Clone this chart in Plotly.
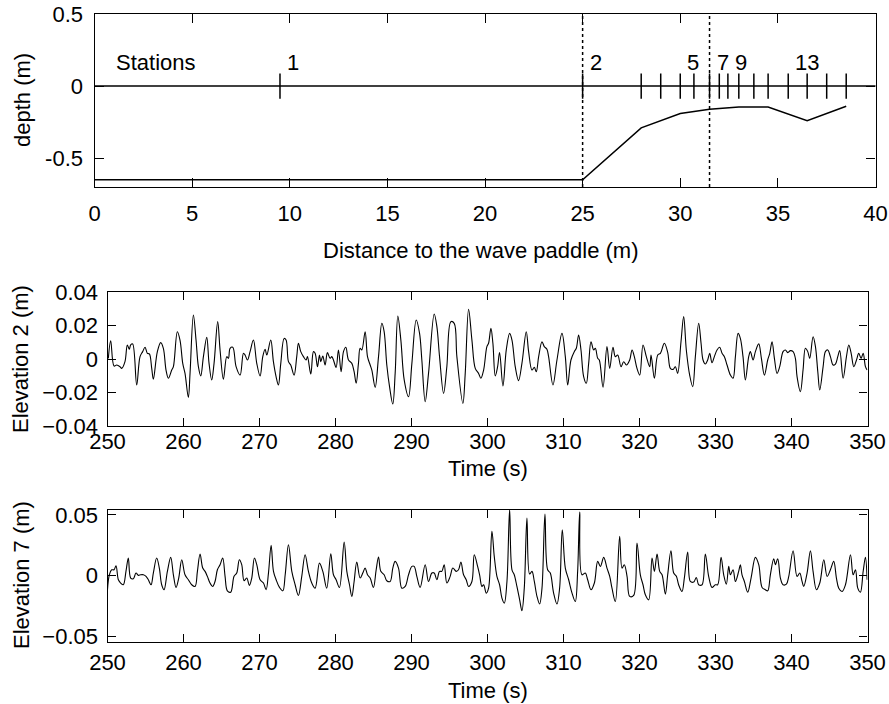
import plotly.graph_objects as go

# ---------------- data ----------------
# Top panel: bathymetry profile and gauge stations
bathy_x = [0.0, 25.0, 28.0, 30.0, 31.5, 33.0, 34.5, 36.5, 38.5]
bathy_z = [-0.65, -0.65, -0.29, -0.19, -0.16, -0.145, -0.145, -0.24, -0.14]
still_water_level = 0.0
station_x = [9.5, 25.0, 28.0, 29.0, 30.0, 30.7, 31.5, 32.0, 32.44, 33.0,
             33.77, 34.5, 35.53, 36.5, 37.5, 38.5]
labelled_stations = [1, 2, 5, 7, 9, 13]
plotted_stations = [2, 7]

depth_ticks = [-0.5, 0, 0.5]
depth_ticktext = ["-0.5", "0", "0.5"]
dist_ticks = [0, 5, 10, 15, 20, 25, 30, 35, 40]
time_ticks = [250, 260, 270, 280, 290, 300, 310, 320, 330, 340, 350]
elev2_ticks = [-0.04, -0.02, 0, 0.02, 0.04]
elev2_ticktext = ["\u22120.04", "\u22120.02", "0", "0.02", "0.04"]
elev7_ticks = [-0.05, 0, 0.05]
elev7_ticktext = ["\u22120.05", "0", "0.05"]

# Elevation at station 2 (m)
elev2_time = [
    250.11, 250.42, 250.86, 251.21, 251.65, 251.87, 252.30, 252.61, 252.87, 253.05,
    253.31, 253.84, 254.28, 254.63, 254.94, 255.24, 255.51, 255.82, 256.03, 256.56,
    257.00, 257.35, 257.70, 258.01, 258.45, 258.67, 259.19, 259.54, 259.90, 260.20,
    260.64, 260.86, 261.30, 261.65, 261.96, 262.27, 262.62, 263.06, 263.36, 263.71,
    264.02, 264.50, 264.81, 265.25, 265.69, 265.91, 266.13, 266.48, 266.92, 267.45,
    267.89, 268.10, 268.41, 268.76, 269.20, 269.64, 270.08, 270.43, 270.74, 270.96,
    271.48, 271.83, 272.18, 272.49, 272.80, 273.24,
    273.50, 273.81, 274.11, 274.55, 274.90, 275.12, 275.43, 275.78, 276.13, 276.31,
    276.75, 277.10, 277.32, 277.63, 277.89, 278.07, 278.33, 278.63, 278.94, 279.29,
    279.51, 279.73, 280.08, 280.39, 280.74, 281.05, 281.36, 281.71, 282.15, 282.45,
    282.72, 283.02, 283.24, 283.46, 283.90, 284.21, 284.56, 284.78, 285.22, 285.66,
    286.10, 286.40, 286.75, 287.11, 287.54, 287.85, 288.20, 288.60, 289.04, 289.61,
    290.05, 290.62, 291.06, 291.36, 291.80, 292.24, 292.99, 293.34, 293.69, 294.22,
    294.65, 295.18, 295.62, 295.97, 296.76, 297.07, 297.51, 297.95,
    298.39, 298.83, 299.13, 299.49, 299.92, 300.14, 300.45, 300.71, 301.02, 301.33,
    301.59, 302.03, 302.47, 302.91, 303.22, 303.65, 304.09, 304.53, 305.10, 305.41,
    305.85, 306.16, 306.42, 306.73, 307.17, 307.47, 307.82, 308.04, 308.61, 309.14,
    309.80, 310.24, 310.55, 310.98, 311.42, 311.69, 311.99, 312.30, 312.65, 313.00,
    313.31, 313.62, 313.97, 314.19, 314.50, 314.71, 315.20, 315.72, 316.08, 316.51,
    316.82, 317.13, 317.57, 317.92, 318.27, 318.71, 319.02, 319.32, 319.67, 320.03,
    320.46, 320.90, 321.34, 321.52, 321.96, 322.40, 322.75, 323.27, 323.71,
    324.06, 324.41, 324.72, 325.02, 325.46, 325.81, 326.16, 326.60, 327.00, 327.35,
    327.79, 328.10, 328.36, 328.66, 328.97, 329.24, 329.54, 329.85, 330.20, 330.55,
    330.86, 331.17, 331.52, 331.96, 332.31, 332.62, 332.97, 333.27, 333.62, 333.93,
    334.37, 334.59, 334.94, 335.25, 335.69, 336.04, 336.43, 336.87, 337.14, 337.44,
    337.75, 338.10, 338.45, 338.89, 339.20, 339.51, 339.86, 340.21, 340.51, 340.73,
    341.17, 341.52, 341.83, 342.14, 342.40, 342.84, 343.15, 343.46, 343.72, 344.16,
    344.46, 344.77, 345.12, 345.47, 345.78, 346.09, 346.35, 346.79, 347.23, 347.54,
    347.85, 348.20, 348.55, 348.85, 349.16, 349.43, 349.73, 349.95,
]
elev2_value = [
    0.0004, 0.0109, -0.0042, -0.0036, -0.0046, -0.0056, -0.0016, 0.0084, 0.0058, 0.0084,
    0.0090, -0.0155, 0.0014, 0.0044, 0.0070, 0.0034, 0.0030, -0.0056, -0.0121, 0.0044,
    0.0098, 0.0064, -0.0066, -0.0115, -0.0066, -0.0046, 0.0163, 0.0113, -0.0026, -0.0086,
    -0.0229, -0.0086, 0.0263, 0.0113, -0.0046, -0.0101, 0.0014, 0.0129, -0.0026, -0.0125,
    -0.0026, 0.0223, 0.0054, -0.0121, 0.0014, 0.0004, 0.0064, 0.0070, -0.0046, -0.0096,
    0.0034, 0.0024, -0.0006, 0.0044, 0.0113, -0.0026, -0.0101, 0.0014, 0.0058, 0.0024,
    0.0113, -0.0016, -0.0105, -0.0155, -0.0026, 0.0123,
    0.0113, -0.0016, -0.0036, -0.0096, 0.0014, 0.0094, 0.0044, 0.0014, -0.0006, 0.0014,
    -0.0090, 0.0044, 0.0034, -0.0046, 0.0024, -0.0016, 0.0018, -0.0036, 0.0038, 0.0004,
    0.0014, -0.0006, -0.0050, 0.0054, -0.0076, 0.0044, 0.0070, -0.0006, -0.0026, -0.0076,
    -0.0145, -0.0026, 0.0064, 0.0054, 0.0163, 0.0014, -0.0036, -0.0066, -0.0169, 0.0014,
    0.0213, 0.0163, -0.0036, -0.0165, -0.0269, -0.0086, 0.0257, 0.0113, -0.0125, -0.0225,
    -0.0026, 0.0233, 0.0153, -0.0006, -0.0255, -0.0086, 0.0269, 0.0193, 0.0014, -0.0205,
    -0.0046, 0.0223, 0.0213, 0.0014, -0.0265, -0.0086, 0.0297, 0.0113,
    -0.0056, -0.0086, -0.0115, -0.0066, 0.0074, 0.0094, 0.0183, 0.0094, -0.0101, -0.0046,
    0.0038, -0.0161, 0.0054, 0.0153, 0.0113, -0.0046, -0.0129, -0.0026, 0.0163, 0.0044,
    -0.0066, -0.0050, -0.0076, 0.0014, 0.0103, 0.0074, 0.0058, 0.0014, -0.0155, -0.0006,
    0.0153, 0.0014, -0.0155, -0.0006, 0.0044, 0.0064, 0.0143, 0.0054, -0.0105, -0.0145,
    -0.0026, 0.0103, 0.0054, 0.0064, 0.0004, -0.0006, -0.0169, 0.0074, -0.0056, 0.0070,
    0.0014, 0.0024, -0.0046, -0.0016, -0.0036, -0.0006, 0.0054, 0.0014, -0.0056, -0.0096,
    0.0084, 0.0014, -0.0046, 0.0024, -0.0115, 0.0024, 0.0034, 0.0094, 0.0040,
    -0.0056, -0.0062, -0.0046, -0.0086, 0.0103, 0.0253, 0.0054, -0.0096, -0.0165, 0.0014,
    0.0213, 0.0094, -0.0006, -0.0030, -0.0006, 0.0034, -0.0022, 0.0014, 0.0054, 0.0070,
    0.0034, 0.0014, -0.0036, -0.0096, -0.0115, 0.0014, 0.0153, 0.0123, 0.0014, -0.0125,
    0.0014, 0.0044, -0.0006, 0.0044, 0.0090, 0.0004, -0.0096, -0.0006, 0.0034, 0.0103,
    0.0004, -0.0086, -0.0046, 0.0044, 0.0054, 0.0038, 0.0050, 0.0044, 0.0004, -0.0105,
    -0.0195, -0.0066, 0.0064, 0.0044, 0.0004, 0.0133, 0.0074, -0.0076, -0.0185, -0.0046,
    0.0044, 0.0054, 0.0014, -0.0036, -0.0030, 0.0014, 0.0050, -0.0115, 0.0014, 0.0084,
    0.0034, -0.0046, -0.0006, 0.0034, 0.0004, 0.0034, -0.0046, -0.0066,
]

# Elevation at station 7 (m)
elev7_time = [
    250.00, 250.24, 250.55, 250.86, 251.12, 251.43, 251.73, 252.08, 252.43, 252.74,
    253.05, 253.40, 253.75, 254.06, 254.37, 254.72, 255.07, 255.37, 255.73, 256.03,
    256.47, 256.82, 257.13, 257.44, 257.88, 258.32, 258.67, 259.02, 259.37, 259.77,
    260.20, 260.64, 261.08, 261.52, 261.83, 262.18, 262.53, 262.84, 263.14, 263.49,
    263.84, 264.15, 264.46, 264.81, 265.16, 265.47, 265.77, 266.21, 266.65, 267.00,
    267.35, 267.66, 267.97, 268.32, 268.67, 268.98, 269.33, 269.64, 270.08, 270.52,
    270.87, 271.18, 271.53, 271.84, 272.19, 272.63, 273.07, 273.38,
    273.81, 274.25, 274.69, 275.12, 275.56, 276.00, 276.44, 276.88, 277.32, 277.89,
    278.33, 278.85, 279.38, 279.73, 280.08, 280.52, 281.14, 281.49, 281.84, 282.15,
    282.45, 282.80, 283.24, 283.59, 283.90, 284.21, 284.56, 284.99, 285.35, 285.66,
    285.96, 286.40, 286.75, 287.19, 287.54, 287.85, 288.29, 288.73, 289.17, 289.61,
    290.05, 290.35, 290.70, 291.14, 291.80, 292.24, 292.68, 292.99, 293.34, 293.69,
    293.99, 294.30, 294.65, 295.09, 295.44, 295.88, 296.19, 296.50, 296.85, 297.20,
    297.51, 297.95,
    298.26, 298.70, 298.96, 299.27, 299.49, 299.84, 300.14, 300.58, 300.89, 301.24,
    301.59, 301.90, 302.21, 302.56, 302.91, 303.22, 303.52, 303.87, 304.23, 304.53,
    304.84, 305.19, 305.54, 305.85, 306.16, 306.51, 306.86, 307.17, 307.56, 307.91,
    308.26, 308.70, 309.14, 309.49, 309.84, 310.24, 310.68, 311.12, 311.55, 311.86,
    312.13, 312.43, 312.87, 313.18, 313.62, 314.06, 314.50, 314.85, 315.29, 315.72,
    316.08, 316.38, 316.82, 317.39, 317.70, 318.00, 318.36, 318.71, 319.23, 319.67,
    320.11, 320.46, 320.77, 321.21, 321.65, 321.96, 322.31, 322.66, 322.97, 323.40,
    323.71, 324.14, 324.50, 324.85, 325.15, 325.59, 325.90, 326.34, 326.69, 327.13,
    327.48, 327.79, 328.23, 328.66, 329.10, 329.54, 329.98, 330.29, 330.73, 331.08,
    331.43, 331.74, 331.96, 332.31, 332.62, 333.05, 333.27, 333.49, 333.80, 334.24,
    334.68, 335.25, 335.69, 336.13, 336.56, 336.87, 337.22, 337.66, 337.88, 338.19,
    338.54, 338.89, 339.33, 339.64, 340.21, 340.73, 341.09, 341.39, 341.61, 342.05,
    342.49, 342.84, 343.28, 343.72, 344.25, 344.69, 345.12, 345.56, 345.91, 346.22,
    346.66, 347.10, 347.76, 348.11, 348.42, 348.72, 349.07, 349.43, 349.73, 349.95,
]
elev7_value = [
    -0.0115, 0.0008, 0.0049, 0.0049, 0.0082, -0.0033, -0.0060, -0.0074, 0.0036, 0.0146,
    -0.0019, -0.0025, 0.0022, 0.0003, 0.0008, 0.0008, -0.0005, -0.0033, -0.0074, 0.0022,
    0.0146, 0.0063, -0.0074, -0.0115, 0.0036, 0.0151, 0.0008, -0.0096, -0.0019, 0.0132,
    0.0008, -0.0033, -0.0074, -0.0088, 0.0036, 0.0179, 0.0063, 0.0036, -0.0005, -0.0060,
    -0.0088, -0.0047, 0.0049, 0.0091, 0.0146, -0.0005, -0.0124, -0.0135, -0.0005, 0.0022,
    0.0132, 0.0091, -0.0041, -0.0019, -0.0080, -0.0019, 0.0146, 0.0091, -0.0033, -0.0060,
    -0.0115, 0.0022, 0.0250, 0.0036, -0.0033, -0.0096, -0.0124, 0.0008,
    0.0255, 0.0036, -0.0074, -0.0162, -0.0005, 0.0173, 0.0036, -0.0060, -0.0102, 0.0104,
    0.0036, -0.0102, 0.0181, 0.0008, -0.0033, -0.0096, 0.0277, 0.0036, -0.0074, -0.0170,
    -0.0047, 0.0113, -0.0019, 0.0022, 0.0063, 0.0008, -0.0019, -0.0096, 0.0049, 0.0154,
    0.0036, 0.0008, -0.0041, -0.0047, 0.0063, 0.0118, 0.0063, -0.0102, -0.0088, 0.0008,
    0.0077, 0.0077, -0.0005, -0.0096, 0.0091, -0.0047, 0.0022, 0.0022, -0.0033, 0.0036,
    0.0036, 0.0091, -0.0060, -0.0005, 0.0063, 0.0036, 0.0049, 0.0113, 0.0008, -0.0033,
    -0.0088, -0.0047,
    0.0173, 0.0077, 0.0008, -0.0088, -0.0074, -0.0143, -0.0102, 0.0365, 0.0159, -0.0005,
    -0.0074, -0.0184, -0.0225, -0.0047, 0.0544, 0.0049, 0.0008, -0.0088, -0.0198, -0.0288,
    -0.0102, 0.0475, 0.0014, 0.0036, -0.0047, -0.0170, -0.0233, -0.0102, 0.0508, 0.0049,
    0.0022, -0.0143, -0.0233, -0.0102, 0.0379, 0.0063, -0.0033, -0.0143, -0.0212, 0.0036,
    0.0525, 0.0008, 0.0022, -0.0033, -0.0115, -0.0060, 0.0118, 0.0077, 0.0151, 0.0063,
    -0.0005, -0.0102, -0.0212, 0.0324, 0.0063, 0.0091, -0.0005, -0.0170, -0.0162, 0.0269,
    0.0008, -0.0074, -0.0157, -0.0198, 0.0146, 0.0036, 0.0179, 0.0036, 0.0008, -0.0151,
    0.0008, 0.0206, 0.0022, -0.0005, -0.0074, -0.0129, -0.0019, 0.0195, -0.0047, -0.0052,
    -0.0014, -0.0074, -0.0074, 0.0179, -0.0005, -0.0096, -0.0074, -0.0074, 0.0151, 0.0008,
    -0.0069, 0.0077, 0.0008, 0.0049, -0.0047, 0.0036, 0.0091, 0.0008, -0.0047, -0.0135,
    -0.0019, 0.0151, 0.0091, -0.0096, -0.0115, -0.0124, 0.0008, 0.0140, 0.0091, 0.0140,
    -0.0019, -0.0074, -0.0069, -0.0005, 0.0206, -0.0005, 0.0022, -0.0047, -0.0088, 0.0022,
    0.0206, 0.0036, -0.0115, -0.0060, 0.0132, -0.0005, 0.0049, 0.0118, -0.0019, -0.0102,
    -0.0129, -0.0074, 0.0173, 0.0008, 0.0049, -0.0102, -0.0135, 0.0036, 0.0151, -0.0033,
]

# ---------------- figure ----------------
FONT = "Liberation Sans, Arial, Helvetica, sans-serif"
FS = 22
W, H = 889, 704

fig = go.Figure()

# top panel
fig.add_trace(go.Scatter(x=bathy_x, y=bathy_z, mode="lines",
                         line=dict(color="black", width=1.5),
                         xaxis="x", yaxis="y", showlegend=False, hoverinfo="skip"))
fig.add_trace(go.Scatter(x=station_x, y=[still_water_level] * len(station_x), mode="markers",
                         marker=dict(symbol="line-ns", size=18,
                                     line=dict(color="black", width=1.5)),
                         xaxis="x", yaxis="y", showlegend=False, hoverinfo="skip"))
fig.add_shape(type="line", xref="x domain", yref="y", x0=0, x1=1,
              y0=still_water_level, y1=still_water_level,
              line=dict(color="black", width=1.5))
for s in plotted_stations:
    fig.add_shape(type="line", xref="x", yref="y domain",
                  x0=station_x[s - 1], x1=station_x[s - 1], y0=0, y1=1,
                  line=dict(color="black", width=1.5, dash="dot"))

for s in labelled_stations:
    fig.add_annotation(x=station_x[s - 1], y=0.167, xref="x", yref="y",
                       text=str(s), showarrow=False, xanchor="left", yanchor="middle",
                       xshift=5, font=dict(family=FONT, size=FS, color="black"))
fig.add_annotation(x=1.0, y=0.167, xref="x", yref="y", text="Stations",
                   showarrow=False, xanchor="left", yanchor="middle",
                   font=dict(family=FONT, size=FS, color="black"))

# time series
fig.add_trace(go.Scatter(x=elev2_time, y=elev2_value, mode="lines",
                         line=dict(color="black", width=1.1, shape="spline", smoothing=1.0),
                         xaxis="x2", yaxis="y2", showlegend=False, hoverinfo="skip"))
fig.add_trace(go.Scatter(x=elev7_time, y=elev7_value, mode="lines",
                         line=dict(color="black", width=1.1, shape="spline", smoothing=1.0),
                         xaxis="x3", yaxis="y3", showlegend=False, hoverinfo="skip"))

axis_common = dict(showline=True, linecolor="black", linewidth=1.2, mirror="allticks",
                   ticks="inside", ticklen=8, tickwidth=1.2, tickcolor="black",
                   showgrid=False, zeroline=False, automargin=False,
                   tickfont=dict(family=FONT, size=FS, color="black"))

top_dom_x = [94.5 / W, 875.5 / W]
ts_dom_x = [107.5 / W, 867.5 / W]

fig.update_layout(
    width=W, height=H, autosize=False,
    margin=dict(l=0, r=0, t=0, b=0, pad=0, autoexpand=False),
    paper_bgcolor="white", plot_bgcolor="white",
    xaxis=dict(axis_common, domain=top_dom_x, range=[0, 40], tickvals=dist_ticks,
               ticklen=9, ticklabelstandoff=6, anchor="y"),
    yaxis=dict(axis_common, domain=[1 - 187 / H, 1 - 14 / H], range=[-0.7, 0.5],
               tickvals=depth_ticks, ticktext=depth_ticktext, ticklen=9,
               ticklabelstandoff=6, anchor="x"),
    xaxis2=dict(axis_common, domain=ts_dom_x, range=[250, 350], tickvals=time_ticks,
                ticklabelstandoff=-5, anchor="y2"),
    yaxis2=dict(axis_common, domain=[1 - 426 / H, 1 - 292 / H], range=[-0.04, 0.04],
                tickvals=elev2_ticks, ticktext=elev2_ticktext,
                ticklabelstandoff=4, anchor="x2"),
    xaxis3=dict(axis_common, domain=ts_dom_x, range=[250, 350], tickvals=time_ticks,
                ticklabelstandoff=0, anchor="y3"),
    yaxis3=dict(axis_common, domain=[1 - 642 / H, 1 - 509.5 / H], range=[-0.0545, 0.0545],
                tickvals=elev7_ticks, ticktext=elev7_ticktext,
                ticklabelstandoff=4, anchor="x3"),
)

titles = [
    ("Distance to the wave paddle (m)", 481 / W, 1 - 250 / H, 0),
    ("Time (s)", 487.5 / W, 1 - 468 / H, 0),
    ("Time (s)", 487.5 / W, 1 - 690 / H, 0),
    ("depth (m)", 22 / W, 1 - 100 / H, -90),
    ("Elevation 2 (m)", 21 / W, 1 - 359 / H, -90),
    ("Elevation 7 (m)", 21 / W, 1 - 575 / H, -90),
]
for txt, x, y, ang in titles:
    fig.add_annotation(text=txt, x=x, y=y, xref="paper", yref="paper", showarrow=False,
                       xanchor="center", yanchor="middle", textangle=ang,
                       font=dict(family=FONT, size=FS, color="black"))

fig.write_html("out.html")
